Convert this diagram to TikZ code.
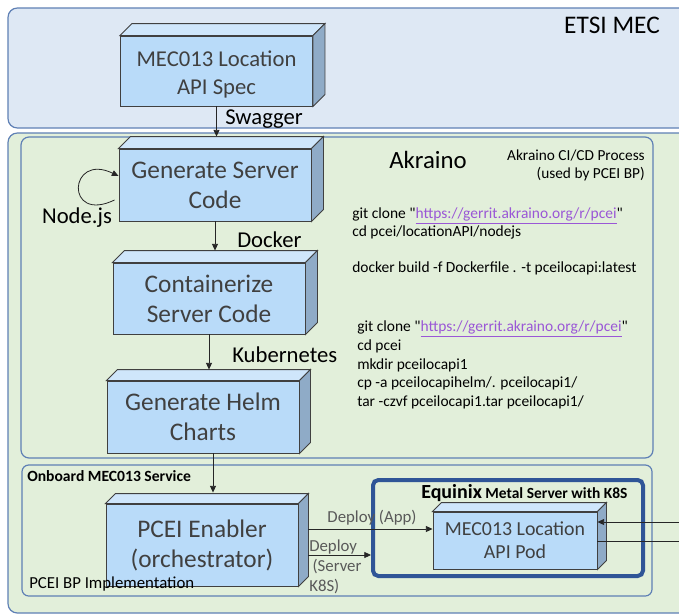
\documentclass[tikz,border=0pt]{standalone}
\usepackage{fontspec}
\setmainfont{Carlito}[Ligatures=TeXOff]
\usetikzlibrary{calc,arrows.meta}
\definecolor{etsifill}{HTML}{DEE8F4}
\definecolor{akrfill}{HTML}{E2EFDA}
\definecolor{grpline}{HTML}{5F80B5}
\definecolor{boxfront}{HTML}{B9DBF9}
\definecolor{boxtop}{HTML}{CFE6FB}
\definecolor{boxside}{HTML}{8FABC7}
\definecolor{boxline}{HTML}{404040}
\definecolor{eqblue}{HTML}{2F5597}
\definecolor{linkpurple}{HTML}{9A57D6}
\definecolor{dgray}{HTML}{595959}
\newcommand\linktxt[1]{\textcolor{linkpurple}{\underline{#1}}}

\begin{document}
\begin{tikzpicture}[x=0.75pt,y=-0.75pt]
\tikzset{every node/.style={inner sep=0pt}}
\tikzset{cube/.style={draw=boxline,fill=boxfront,text=boxline,align=center,line width=0.7pt,minimum width=144pt,minimum height=54pt,font=\fontsize{19}{22.5}\selectfont}}
\tikzset{flow/.style={-{Triangle[length=5pt,width=4.5pt]},line width=0.6pt,draw=black!85}}
\tikzset{group/.style={draw=grpline,line width=0.9pt,rounded corners=7pt}}
\tikzset{lbl/.style={font=\fontsize{17}{20}\selectfont,anchor=west}}
\tikzset{cmd/.style={font=\fontsize{11.6}{13.5}\selectfont,align=left,anchor=west}}

\clip (0,0) rectangle (679,615);
\fill[white] (0,0) rectangle (679,615);
\draw[group,fill=etsifill] (8,8) rectangle (720,128);
\draw[group,fill=akrfill] (8,133) rectangle (720,613);
\draw[group,rounded corners=6pt] (21,137) rectangle (653,458);
\draw[group,rounded corners=5pt] (22,465) rectangle (652,596);

\node[cube,minimum height=52.5pt,font=\fontsize{17}{21}\selectfont] (spec) at (216.5,71) {\rule{0pt}{16.7pt}MEC013 Location\\API Spec};
\node[cube] (gen) at (215,185) {Generate Server\\Code};
\node[cube,minimum height=53.25pt] (cont) at (209,298.5) {Containerize\\Server Code};
\node[cube] (helm) at (203,417) {Generate Helm\\Charts};
\node[cube,minimum height=61.5pt] (pcei) at (202,545) {PCEI Enabler\\(orchestrator)};
\node[draw=eqblue,line width=3pt,rounded corners=4pt,minimum width=202.5pt,minimum height=72pt] (equinix) at (508,528) {};
\node[cube,minimum width=123pt,minimum height=42.75pt,font=\fontsize{14.9}{17.25}\selectfont] (pod) at (515,540.5) {MEC013 Location\\API Pod};

\foreach \n/\d in {spec/12,gen/12,cont/12,helm/11,pcei/10,pod/9}{
  \draw[boxline,fill=boxtop,line width=0.7pt] (\n.north west) -- ++(\d,-\d) -- ($(\n.north east)+(\d,-\d)$) -- (\n.north east) -- cycle;
  \draw[boxline,fill=boxside,line width=0.7pt] (\n.north east) -- ++(\d,-\d) -- ($(\n.south east)+(\d,-\d)$) -- (\n.south east) -- cycle;
}

\draw[flow] (spec.south) -- ($(spec.south |- gen.north)+(0,-12)$);
\draw[flow] (gen.south) -- ($(gen.south |- cont.north)+(0,-12)$);
\draw[flow] (cont.south) -- ($(cont.south |- helm.north)+(0,-11)$);
\draw[flow] ($(helm.south)+(10,0)$) coordinate (h1) -- ($(h1 |- pcei.north)+(0,-11)$);
\draw[flow] ($(gen.west)+(-4,15)$) .. controls +(-50,24) and +(-50,-24) .. ($(gen.west)+(0,-9)$);

\draw[flow] ($(pcei.east)+(10,-16)$) coordinate (d1) -- (d1 -| pod.west);
\draw[flow] ($(pcei.east)+(10,10)$) coordinate (d2) -- (d2 -| equinix.west);
\coordinate (ext1) at (679,522);
\coordinate (ext2) at (679,541);
\draw[flow] (ext1) -- (ext1 -| pod.east);
\draw[line width=0.6pt,black!85] (pod.east |- ext2) -- (ext2);

\node[font=\fontsize{19}{22}\selectfont] (etsi) at (612,25) {ETSI MEC};
\node[font=\fontsize{18.6}{22}\selectfont] (akr) at (428,160) {Akraino};
\node[font=\fontsize{11.5}{13.5}\selectfont,align=right,anchor=east] (cicd) at (645,165) {Akraino CI/CD Process\\(used by PCEI BP)};
\node[cmd] (cmd1) at (352,241.5) {git clone "\linktxt{https://gerrit.akraino.org/r/pcei}"\\cd pcei/locationAPI/nodejs\\ \\docker build -f Dockerfile . -t pceilocapi:latest};
\node[cmd,font=\fontsize{11.6}{14}\selectfont] (cmd2) at (357,365) {git clone "\linktxt{https://gerrit.akraino.org/r/pcei}"\\cd pcei\\mkdir pceilocapi1\\cp -a pceilocapihelm/. pceilocapi1/\\tar -czvf pceilocapi1.tar pceilocapi1/};

\node[lbl] (swg) at (225,119) {Swagger};
\node[lbl] (dock) at (237,240) {Docker};
\node[lbl] (kube) at (232,355) {Kubernetes};
\node[lbl,anchor=center] (nodejs) at (77,218) {Node.js};

\node[font=\bfseries\fontsize{11.7}{14}\selectfont,anchor=west] (onb) at (27,476) {Onboard MEC013 Service};
\node[font=\fontsize{12.6}{15}\selectfont,anchor=west] (bpimpl) at (29,584) {PCEI BP Implementation};
\node[font=\bfseries\fontsize{11.6}{14}\selectfont,anchor=west] (eqlbl) at (421,493) {{\fontsize{15}{18}\selectfont Equinix} Metal Server with K8S};
\node[font=\fontsize{12.6}{15}\selectfont,text=dgray] (dapp) at (372,518) {Deploy (App)};
\node[font=\fontsize{12.6}{15}\selectfont,text=dgray,align=left,anchor=west] (dsrv) at (309,567) {Deploy\\\hspace{2.5pt}(Server\\K8S)};
\end{tikzpicture}
\end{document}
